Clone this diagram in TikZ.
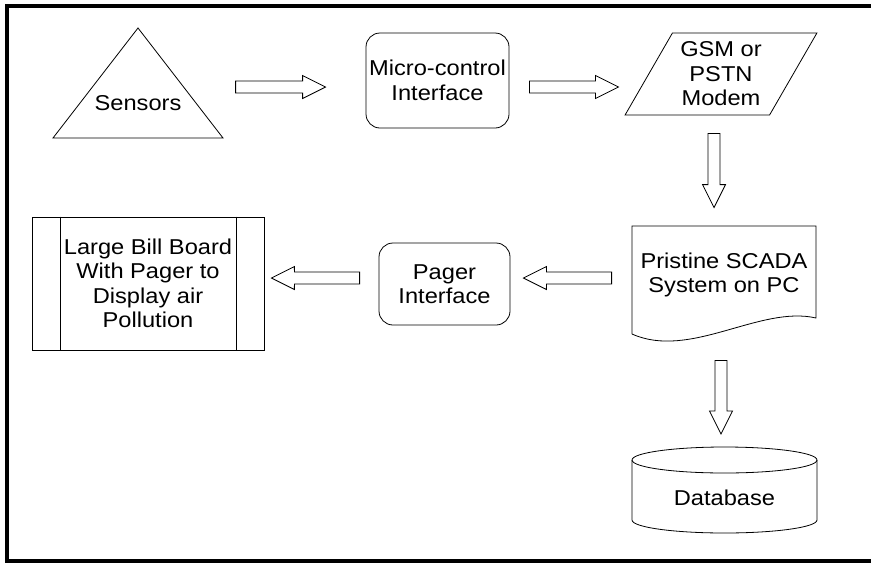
\documentclass[tikz,border=0pt]{standalone}
\usepackage{fontspec}
\setmainfont{Liberation Sans}[FakeStretch=1.1]
\usetikzlibrary{calc,shapes.geometric}

\tikzset{
  box/.style={draw,align=center,inner sep=2pt},
  blockarrow/.style={draw,to path={
    ($(\tikztostart)!6pt!90:(\tikztotarget)$)
    -- ($(\tikztotarget)!23.77pt!-14.62:(\tikztostart)$)
    -- ($(\tikztotarget)!25.71pt!-26.57:(\tikztostart)$)
    -- (\tikztotarget)
    -- ($(\tikztotarget)!25.71pt!26.57:(\tikztostart)$)
    -- ($(\tikztotarget)!23.77pt!14.62:(\tikztostart)$)
    -- ($(\tikztostart)!6pt!-90:(\tikztotarget)$) -- cycle}}
}

\begin{document}
\begin{tikzpicture}[x=1pt,y=-1pt,line width=0.8pt,font=\fontsize{21.5}{24.5}\selectfont]
  \useasboundingbox (0,0) rectangle (871,563);
  % frame
  \draw[line width=4pt] (871,5.5) -- (7,5.5) -- (7,561) -- (871,561);

  % top row
  \node (sensors) at (138,103) {Sensors};
  \draw (53,138) -- (138,28) -- (223,138) -- cycle;
  \node[box,rounded corners=14pt,minimum width=143pt,minimum height=95pt] (micro) at (437.5,80.5) {Micro-control\\Interface};
  \node[box,trapezium,trapezium left angle=58.6,trapezium right angle=121.4,trapezium stretches=true,
        minimum width=192pt,minimum height=82pt] (gsm) at (721,74) {GSM or\\PSTN\\Modem};

  % scada document
  \node[align=center,minimum width=184pt,minimum height=98pt] (scada) at (724,275) {Pristine SCADA\\System on PC};
  \draw (632,334) -- (632,226) -- (816,226) -- (816,318) .. controls (760,305) and (690,360) .. (632,334);

  % bottom row
  \node[box,rounded corners=14pt,minimum width=131pt,minimum height=82pt] (pager) at (444.5,284) {Pager\\Interface};
  \node[box,minimum width=232pt,minimum height=133pt] (board) at (148,283.5) {Large Bill Board\\With Pager to\\Display air\\Pollution};
  \draw ([xshift=29pt]board.north west) -- ([xshift=29pt]board.south west);
  \draw ([xshift=-28pt]board.north east) -- ([xshift=-28pt]board.south east);

  % database
  \node (database) at (724.5,498) {Database};
  \draw (632,460) -- (632,520) arc[start angle=180,end angle=360,x radius=92.5pt,y radius=13pt] -- (817,460);
  \draw (724.5,460) ellipse[x radius=92.5pt,y radius=13pt];

  % arrows
  \draw[blockarrow] ([shift={(-130,6.5)}]micro.west) to ([shift={(-40,6.5)}]micro.west);
  \draw[blockarrow] ([shift={(20,6.5)}]micro.east) to ([shift={(109,6.5)}]micro.east);
  \draw[blockarrow] ([shift={(-7,18)}]gsm.south) to ([shift={(-10,-18)}]scada.north);
  \draw[blockarrow] ([shift={(-20,3)}]scada.west) to ([shift={(13,-6)}]pager.east);
  \draw[blockarrow] ([shift={(-19,-6)}]pager.west) to ([shift={(7,-5.5)}]board.east);
  \draw[blockarrow] ([shift={(-3,36)}]scada.south) to ([shift={(-3.5,-64)}]database.center);
\end{tikzpicture}
\end{document}
